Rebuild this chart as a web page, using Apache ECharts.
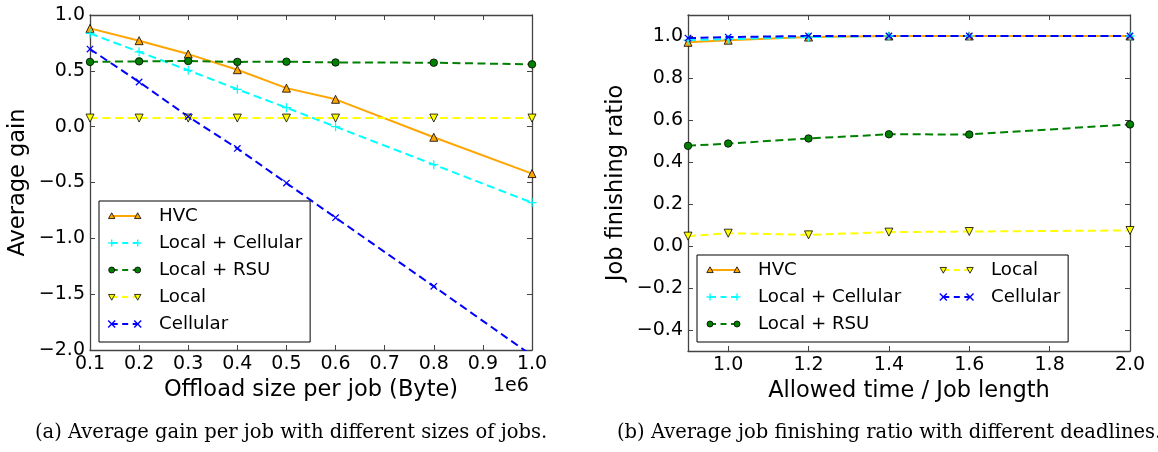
<!DOCTYPE html>
<html>
<head>
<meta charset="utf-8">
<script src="https://cdn.jsdelivr.net/npm/echarts@6/dist/echarts.min.js"></script>
<style>
html,body{margin:0;padding:0;background:#fff;}
#chart{width:1158px;height:452px;}
</style>
</head>
<body>
<div id="chart"></div>
<script>
// ---------- data ----------
const seriesNames = ['HVC', 'Local + Cellular', 'Local + RSU', 'Local', 'Cellular'];

// (a) average gain vs offload size (x in units of 1e6 Byte)
const sizeX = [0.1, 0.2, 0.3, 0.4, 0.5, 0.6, 0.8, 1.0];
const gainHVC = [0.88, 0.77, 0.65, 0.51, 0.345, 0.245, -0.095, -0.42];
const gainLocalCellular = [0.835, 0.67, 0.505, 0.335, 0.17, 0.0, -0.34, -0.68];
const gainLocalRSU = [0.58, 0.585, 0.588, 0.58, 0.582, 0.575, 0.573, 0.558];
const gainLocal = [0.077, 0.077, 0.077, 0.077, 0.077, 0.077, 0.077, 0.077];
const gainCellular = [0.695, 0.40, 0.09, -0.195, -0.505, -0.815, -1.43, -2.05];

// (b) job finishing ratio vs allowed time / job length
const ratioX = [0.9, 1.0, 1.2, 1.4, 1.6, 2.0];
const ratioHVC = [0.97, 0.98, 0.995, 1.0, 1.0, 1.0];
const ratioLocalCellular = [0.98, 0.985, 0.995, 1.0, 1.0, 1.0];
const ratioLocalRSU = [0.477, 0.488, 0.512, 0.532, 0.531, 0.579];
const ratioLocal = [0.047, 0.061, 0.053, 0.066, 0.069, 0.074];
const ratioCellular = [0.99, 0.995, 1.0, 1.0, 1.0, 1.0];

// tick labels
const ratioXTicks = [1.0, 1.2, 1.4, 1.6, 1.8, 2.0];
const ratioYTicks = [-0.4, -0.2, 0.0, 0.2, 0.4, 0.6, 0.8, 1.0];

const xLabelA = 'Offload size per job (Byte)';
const yLabelA = 'Average gain';
const xLabelB = 'Allowed time / Job length';
const yLabelB = 'Job finishing ratio';
const captionA = '(a) Average gain per job with different sizes of jobs.';
const captionB = '(b) Average job finishing ratio with different deadlines.';
const offsetText = '1e6';

// ---------- styles ----------
const FONT = 'DejaVu Sans';
const AX = '#444';
const plusPath = 'path://M0,4.3 L10,4.3 L10,5.7 L0,5.7 Z M4.3,0 L5.7,0 L5.7,10 L4.3,10 Z';
const DASH = [8, 4.5];
const styles = {
  'HVC': {color: '#FFA500', type: 'solid', symbol: 'triangle', size: 8, rotate: 0, border: '#000', mk: 'up'},
  'Local + Cellular': {color: '#00FFFF', type: DASH, symbol: plusPath, size: 9, rotate: 0, border: null, mk: 'plus'},
  'Local + RSU': {color: '#008000', type: DASH, symbol: 'circle', size: 7.5, rotate: 0, border: '#000', mk: 'circle'},
  'Local': {color: '#FFFF00', type: DASH, symbol: 'triangle', size: 8, rotate: 180, border: '#000', mk: 'down'},
  'Cellular': {color: '#0000FF', type: DASH, symbol: plusPath, size: 9, rotate: 45, border: null, mk: 'x'}
};

function fmt(v) {
  const r = Math.round(v * 10) / 10;
  return (r < 0 ? '\u2212' : '') + Math.abs(r).toFixed(1);
}

function mkSeries(name, xs, ys, xi, yi) {
  const s = styles[name];
  return {
    name: name,
    type: 'line',
    xAxisIndex: xi,
    yAxisIndex: yi,
    data: xs.map((x, i) => [x, ys[i]]),
    symbol: s.symbol,
    symbolSize: s.size,
    symbolRotate: s.rotate,
    showAllSymbol: true,
    clip: true,
    animation: false,
    lineStyle: {color: s.color, width: 2, type: s.type},
    itemStyle: {color: s.color, borderColor: s.border || s.color, borderWidth: s.border ? 0.8 : 0, opacity: 1},
    emphasis: {disabled: true}
  };
}

// legend key drawn matplotlib-style: a line segment with a marker at each end
function keyMarker(kind, color, x, y) {
  const r = 3.2;
  if (kind === 'up') return [{type: 'polygon', z: 101, shape: {points: [[x, y - r], [x + r, y + r * 0.8], [x - r, y + r * 0.8]]}, style: {fill: color, stroke: '#000', lineWidth: 0.8}}];
  if (kind === 'down') return [{type: 'polygon', z: 101, shape: {points: [[x, y + r], [x + r, y - r * 0.8], [x - r, y - r * 0.8]]}, style: {fill: color, stroke: '#000', lineWidth: 0.8}}];
  if (kind === 'circle') return [{type: 'circle', z: 101, shape: {cx: x, cy: y, r: 3}, style: {fill: color, stroke: '#000', lineWidth: 0.8}}];
  const d = 3.5;
  if (kind === 'plus') return [
    {type: 'line', z: 101, shape: {x1: x - d, y1: y, x2: x + d, y2: y}, style: {stroke: color, lineWidth: 1.4}},
    {type: 'line', z: 101, shape: {x1: x, y1: y - d, x2: x, y2: y + d}, style: {stroke: color, lineWidth: 1.4}}
  ];
  return [
    {type: 'line', z: 101, shape: {x1: x - d, y1: y - d, x2: x + d, y2: y + d}, style: {stroke: color, lineWidth: 1.4}},
    {type: 'line', z: 101, shape: {x1: x - d, y1: y + d, x2: x + d, y2: y - d}, style: {stroke: color, lineWidth: 1.4}}
  ];
}
function legendKey(name, x1, x2, y) {
  const s = styles[name];
  return [
    {type: 'line', z: 100, shape: {x1: x1, y1: y, x2: x2, y2: y},
      style: {stroke: s.color, lineWidth: 2, lineDash: s.type === 'solid' ? null : [6, 4.5]}}
  ].concat(keyMarker(s.mk, s.color, x1, y), keyMarker(s.mk, s.color, x2, y));
}

const tickLabel = {fontFamily: FONT, fontSize: 19, color: '#000'};
const nameStyle = {fontFamily: FONT, fontSize: 22.5, color: '#000'};

function frameAxis(grid, pos, min, max, extra) {
  return Object.assign({
    type: 'value', gridIndex: grid, position: pos, min: min, max: max,
    axisLine: {show: true, onZero: false, lineStyle: {color: AX, width: 1.3}},
    axisTick: {show: true, inside: true, length: 5, lineStyle: {color: AX, width: 1}},
    axisLabel: {show: false},
    splitLine: {show: false}
  }, extra || {});
}

const legendText = {fontFamily: FONT, fontSize: 18.2, color: '#000', lineHeight: 18, padding: [0, 0, 0, 16]};
const hiddenIcon = {icon: 'rect', itemStyle: {color: 'rgba(0,0,0,0)', borderWidth: 0, opacity: 0}, lineStyle: {opacity: 0}};

const ROW = 27;
const flat = a => a.reduce((acc, x) => acc.concat(x), []);
const keysA = flat(seriesNames.map((n, i) => legendKey(n, 111.7, 137.7, 216 + i * ROW)));
const keysB1 = flat(seriesNames.slice(0, 3).map((n, i) => legendKey(n, 710, 737, 270 + i * ROW)));
const keysB2 = flat(seriesNames.slice(3).map((n, i) => legendKey(n, 943.3, 970, 270 + i * ROW)));

const option = {
  animation: false,
  backgroundColor: '#fff',
  grid: [
    {left: 90, top: 15, width: 442, height: 335},
    {left: 688, top: 15, width: 442, height: 336}
  ],
  xAxis: [
    frameAxis(0, 'bottom', 0.1, 1.0, {
      interval: 0.1,
      axisLabel: Object.assign({show: true, margin: 5, formatter: fmt, showMinLabel: true, showMaxLabel: true}, tickLabel),
      name: xLabelA, nameLocation: 'middle', nameGap: 28, nameTextStyle: nameStyle
    }),
    frameAxis(0, 'top', 0.1, 1.0, {interval: 0.1}),
    frameAxis(1, 'bottom', 0.9, 2.0, {
      axisLabel: Object.assign({show: true, margin: 5, formatter: fmt, customValues: ratioXTicks}, tickLabel),
      axisTick: {show: true, inside: true, length: 5, customValues: ratioXTicks, lineStyle: {color: AX, width: 1}},
      name: xLabelB, nameLocation: 'middle', nameGap: 28, nameTextStyle: nameStyle
    }),
    frameAxis(1, 'top', 0.9, 2.0, {
      axisTick: {show: true, inside: true, length: 5, customValues: ratioXTicks, lineStyle: {color: AX, width: 1}}
    })
  ],
  yAxis: [
    frameAxis(0, 'left', -2.0, 1.0, {
      interval: 0.5,
      axisLabel: Object.assign({show: true, margin: 5, formatter: fmt}, tickLabel),
      name: yLabelA, nameLocation: 'middle', nameGap: 60, nameRotate: 90, nameTextStyle: nameStyle
    }),
    frameAxis(0, 'right', -2.0, 1.0, {interval: 0.5}),
    frameAxis(1, 'left', -0.5, 1.1, {
      axisLabel: Object.assign({show: true, margin: 5, formatter: fmt, customValues: ratioYTicks}, tickLabel),
      axisTick: {show: true, inside: true, length: 5, customValues: ratioYTicks, lineStyle: {color: AX, width: 1}},
      name: yLabelB, nameLocation: 'middle', nameGap: 60, nameRotate: 90, nameTextStyle: nameStyle
    }),
    frameAxis(1, 'right', -0.5, 1.1, {
      axisTick: {show: true, inside: true, length: 5, customValues: ratioYTicks, lineStyle: {color: AX, width: 1}}
    })
  ],
  legend: [
    Object.assign({
      data: seriesNames, orient: 'vertical', left: 99, top: 201,
      itemWidth: 27, itemHeight: 12, itemGap: 9,
      padding: [6, 8, 9, 12],
      borderColor: '#000', borderWidth: 1, backgroundColor: '#fff',
      textStyle: legendText, selectedMode: false
    }, hiddenIcon),
    Object.assign({
      data: seriesNames.slice(0, 3), orient: 'vertical', left: 697, top: 255,
      itemWidth: 27, itemHeight: 12, itemGap: 9,
      padding: [6, 167, 9, 13],
      borderColor: '#000', borderWidth: 1, backgroundColor: '#fff',
      textStyle: legendText, selectedMode: false
    }, hiddenIcon),
    Object.assign({
      data: seriesNames.slice(3), orient: 'vertical', left: 943, top: 261,
      itemWidth: 27, itemHeight: 12, itemGap: 9,
      padding: 0,
      textStyle: legendText, selectedMode: false
    }, hiddenIcon)
  ],
  graphic: [
    {type: 'text', left: 493, top: 377, style: {text: offsetText, font: '19px "DejaVu Sans"', fill: '#000'}},
    {type: 'text', left: 35, top: 423, style: {text: captionA, font: '19.5px "DejaVu Serif"', fill: '#000'}},
    {type: 'text', left: 617, top: 423, style: {text: captionB, font: '19.5px "DejaVu Serif"', fill: '#000'}}
  ].concat(keysA, keysB1, keysB2),
  series: [
    mkSeries('HVC', sizeX, gainHVC, 0, 0),
    mkSeries('Local + Cellular', sizeX, gainLocalCellular, 0, 0),
    mkSeries('Local + RSU', sizeX, gainLocalRSU, 0, 0),
    mkSeries('Local', sizeX, gainLocal, 0, 0),
    mkSeries('Cellular', sizeX, gainCellular, 0, 0),
    mkSeries('HVC', ratioX, ratioHVC, 2, 2),
    mkSeries('Local + Cellular', ratioX, ratioLocalCellular, 2, 2),
    mkSeries('Local + RSU', ratioX, ratioLocalRSU, 2, 2),
    mkSeries('Local', ratioX, ratioLocal, 2, 2),
    mkSeries('Cellular', ratioX, ratioCellular, 2, 2)
  ]
};

const chart = echarts.init(document.getElementById('chart'), null, {renderer: 'canvas'});
chart.setOption(option);
</script>
</body>
</html>
